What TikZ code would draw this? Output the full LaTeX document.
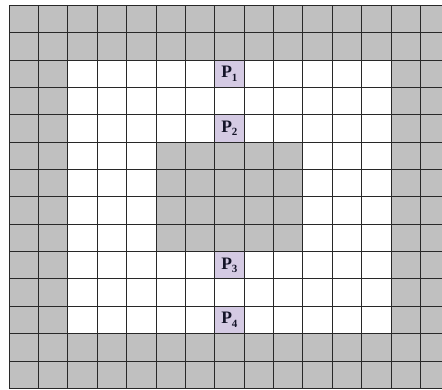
\documentclass[tikz,border=0pt]{standalone}
\usepackage{fontspec}
\setmainfont{Liberation Serif}
\definecolor{cellgray}{RGB}{192,192,192}
\definecolor{cellpurple}{RGB}{212,202,227}
\definecolor{gridline}{RGB}{40,40,40}
\definecolor{labeltext}{RGB}{20,20,40}
\newcommand{\psub}[1]{P\raisebox{-3.5pt}{\fontsize{11}{11}\selectfont #1}}
\begin{document}
\begin{tikzpicture}[x=1pt,y=-1pt,
  gridln/.style={draw=gridline,line width=0.8pt},
  plabel/.style={font=\fontsize{17.5}{17.5}\selectfont\bfseries,text=labeltext,inner sep=0pt}]
\useasboundingbox (0,0) rectangle (442,390);
\def\cw{29.38}
\def\rh{27.36}
\def\xo{9}
\def\yo{5.3}
\begin{scope}
\clip (0,0) rectangle (442,390);
% outer gray
\fill[cellgray] (\xo,\yo) rectangle (442,{\yo+14*\rh});
% white inner region: columns 2-12, rows 2-11
\fill[white] ({\xo+2*\cw},{\yo+2*\rh}) rectangle ({\xo+13*\cw},{\yo+12*\rh});
% central gray block: columns 5-9, rows 5-8
\fill[cellgray] ({\xo+5*\cw},{\yo+5*\rh}) rectangle ({\xo+10*\cw},{\yo+9*\rh});
% purple cells column 7, rows 2,4,9,11
\foreach \r in {2,4,9,11}{
  \fill[cellpurple] ({\xo+7*\cw},{\yo+\r*\rh}) rectangle ({\xo+8*\cw},{\yo+(\r+1)*\rh});
}
% grid lines
\foreach \i in {0,...,14}{
  \draw[gridln] ({\xo+\i*\cw},\yo) -- ({\xo+\i*\cw},{\yo+14*\rh});
}
\foreach \j in {0,...,14}{
  \draw[gridln] (\xo,{\yo+\j*\rh}) -- (442,{\yo+\j*\rh});
}
\end{scope}
% labels
\node[plabel] (p1) at ({\xo+7.5*\cw},{\yo+2.5*\rh}) {\psub{1}};
\node[plabel] (p2) at ({\xo+7.5*\cw},{\yo+4.5*\rh}) {\psub{2}};
\node[plabel] (p3) at ({\xo+7.5*\cw},{\yo+9.5*\rh}) {\psub{3}};
\node[plabel] (p4) at ({\xo+7.5*\cw},{\yo+11.5*\rh}) {\psub{4}};
\end{tikzpicture}
\end{document}
